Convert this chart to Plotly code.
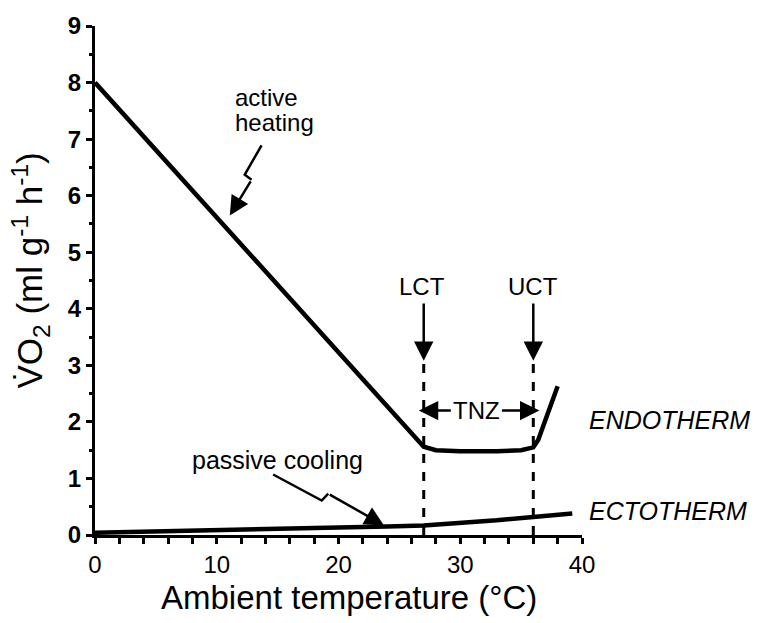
import plotly.graph_objects as go

# Metabolic rate vs ambient temperature for an endotherm and an ectotherm
endo_temp = [0, 27, 28, 30, 33, 35, 36, 36.4, 36.8, 37.4, 38]
endo_vo2 = [8.0, 1.56, 1.50, 1.48, 1.48, 1.50, 1.55, 1.68, 1.92, 2.28, 2.63]

ecto_temp = [0, 5, 10, 15, 20, 24, 27, 30, 33, 36, 39.2]
ecto_vo2 = [0.04, 0.06, 0.08, 0.10, 0.12, 0.15, 0.17, 0.21, 0.26, 0.32, 0.38]

# Critical temperatures bounding the thermoneutral zone
lct = 27
uct = 36

x_ticks = [0, 10, 20, 30, 40]
y_ticks = list(range(0, 10))

FONT = "Liberation Sans, Arial, sans-serif"
BLACK = "#000000"
HEAD = dict(showarrow=True, arrowhead=2, arrowsize=1.55, arrowwidth=2.5,
            arrowcolor=BLACK, text="", xref="x", yref="y", axref="x", ayref="y")

fig = go.Figure()
fig.add_trace(go.Scatter(x=endo_temp, y=endo_vo2, mode="lines",
                         line=dict(color=BLACK, width=4.5), cliponaxis=False,
                         showlegend=False))
fig.add_trace(go.Scatter(x=ecto_temp, y=ecto_vo2, mode="lines",
                         line=dict(color=BLACK, width=4.5), cliponaxis=False,
                         showlegend=False))

shapes = []
annotations = []

# dashed verticals and pointers at LCT and UCT
for xc in (lct, uct):
    shapes.append(dict(type="line", xref="x", yref="y", x0=xc, x1=xc, y0=0, y1=3.05,
                       line=dict(color=BLACK, width=3, dash="dash")))
    annotations.append(dict(x=xc, y=3.08, ax=xc, ay=4.12, **HEAD))

annotations.append(dict(x=lct - 0.15, y=4.4, text="LCT", showarrow=False,
                        font=dict(family=FONT, size=24, color=BLACK)))
annotations.append(dict(x=uct, y=4.4, text="UCT", showarrow=False,
                        font=dict(family=FONT, size=24, color=BLACK)))

# TNZ span arrows
annotations.append(dict(x=31.3, y=2.2, text="TNZ", showarrow=False,
                        font=dict(family=FONT, size=24, color=BLACK)))
annotations.append(dict(x=lct - 0.4, y=2.2, ax=29.35, ay=2.2, **HEAD))
annotations.append(dict(x=uct + 0.5, y=2.2, ax=33.3, ay=2.2, **HEAD))

# squiggle pointer for "active heating"
shapes.append(dict(type="path", xref="x", yref="y",
                   path="M 13.68 6.89 L 12.30 6.37 L 12.86 6.28",
                   line=dict(color=BLACK, width=2.5)))
annotations.append(dict(x=11.07, y=5.65, ax=12.86, ay=6.28, **HEAD))
annotations.append(dict(x=11.3, y=7.73, xanchor="left", text="active", showarrow=False,
                        font=dict(family=FONT, size=24, color=BLACK)))
annotations.append(dict(x=11.3, y=7.30, xanchor="left", text="heating", showarrow=False,
                        font=dict(family=FONT, size=24, color=BLACK)))

# squiggle pointer for "passive cooling"
shapes.append(dict(type="path", xref="x", yref="y",
                   path="M 14.63 1.07 L 18.62 0.61 L 19.16 0.73",
                   line=dict(color=BLACK, width=2.5)))
annotations.append(dict(x=23.74, y=0.17, ax=19.16, ay=0.73, **HEAD))
annotations.append(dict(x=7.8, y=1.33, xanchor="left", text="passive cooling",
                        showarrow=False, font=dict(family=FONT, size=25, color=BLACK)))

# curve labels beside the plot area
annotations.append(dict(xref="paper", yref="y", x=1.01, y=2.04, xanchor="left",
                        text="<i>ENDOTHERM</i>", showarrow=False,
                        font=dict(family=FONT, size=25, color=BLACK)))
annotations.append(dict(xref="paper", yref="y", x=1.01, y=0.42, xanchor="left",
                        text="<i>ECTOTHERM</i>", showarrow=False,
                        font=dict(family=FONT, size=25, color=BLACK)))

# axis titles
annotations.append(dict(xref="paper", yref="paper", x=0, y=0.5, xshift=-65, yshift=10,
                        xanchor="center", yanchor="middle",
                        textangle=-90, showarrow=False,
                        text="V\u0307O<sub>2</sub> (ml g<sup>-1</sup> h<sup>-1</sup>)",
                        font=dict(family=FONT, size=35, color=BLACK)))
annotations.append(dict(xref="paper", yref="paper", x=0.5, y=0, yshift=-62, xshift=10,
                        xanchor="center", yanchor="middle", showarrow=False,
                        text="Ambient temperature (\u00b0C)",
                        font=dict(family=FONT, size=33, color=BLACK)))

fig.update_layout(
    width=768, height=623,
    margin=dict(l=95, r=186, t=15, b=88),
    paper_bgcolor="white", plot_bgcolor="white",
    shapes=shapes, annotations=annotations,
    xaxis=dict(range=[0, 40], tickvals=x_ticks, ticktext=[str(v) for v in x_ticks],
               showline=True, linewidth=3, linecolor=BLACK, showgrid=False,
               zeroline=False, ticks="outside", ticklen=6, tickwidth=2.5,
               tickcolor=BLACK,
               minor=dict(dtick=2, ticks="outside", ticklen=6, tickwidth=2.5,
                          tickcolor=BLACK, showgrid=False),
               tickfont=dict(family=FONT, size=24, color=BLACK)),
    yaxis=dict(range=[0, 9], tickvals=y_ticks, ticktext=[str(v) for v in y_ticks],
               showline=True, linewidth=3, linecolor=BLACK, showgrid=False,
               zeroline=False, ticks="outside", ticklen=6, tickwidth=2.5,
               tickcolor=BLACK,
               minor=dict(dtick=0.5, ticks="outside", ticklen=3.5, tickwidth=2.5,
                          tickcolor=BLACK, showgrid=False),
               tickfont=dict(family=FONT, size=24, color=BLACK, weight="bold")),
)

fig.write_html("out.html")
